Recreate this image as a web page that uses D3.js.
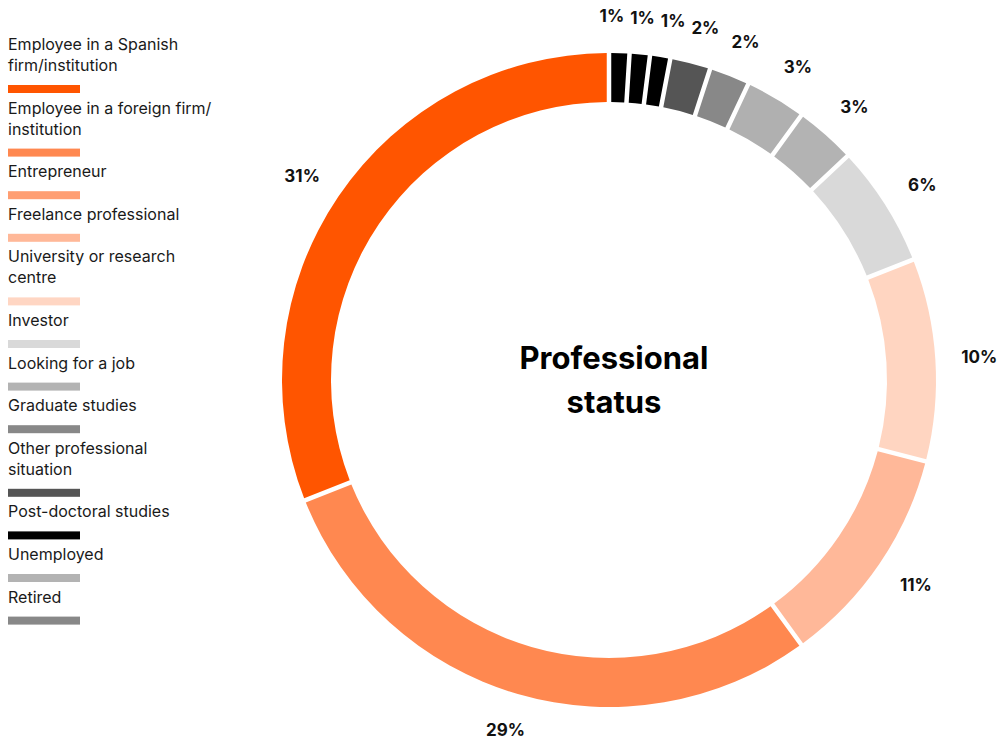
<!DOCTYPE html>
<html>
<head>
<meta charset="utf-8">
<script src="https://cdn.jsdelivr.net/npm/d3@7"></script>
<style>
  html, body { margin: 0; padding: 0; background: #ffffff; }
  svg { display: block; }
</style>
</head>
<body>
<svg id="chart" width="1006" height="739"></svg>
<script>
// Professional status of respondents (share, %)
const categories = [
  "Employee in a Spanish\nfirm/institution",
  "Employee in a foreign firm/\ninstitution",
  "Entrepreneur",
  "Freelance professional",
  "University or research\ncentre",
  "Investor",
  "Looking for a job",
  "Graduate studies",
  "Other professional\nsituation",
  "Post-doctoral studies",
  "Unemployed",
  "Retired"
];
const values = [31, 29, 11, 10, 6, 3, 3, 2, 2, 1, 1, 1];

// Swatch colours in the legend
const legendColors = [
  "#ff5500", "#ff8850", "#ff9e72", "#ffb898", "#ffd6c3", "#d9d9d9",
  "#b3b3b3", "#888888", "#555555", "#000000", "#b3b3b3", "#888888"
];
// Fill colours of the ring segments
const sliceColors = [
  "#ff5500", "#ff8850", "#ffb899", "#ffd5c1", "#d9d9d9", "#b3b3b3",
  "#b0b0b0", "#888888", "#555555", "#000000", "#000000", "#000000"
];

const centerTitle = ["Professional", "status"];

const data = categories.map((c, i) => ({
  name: c, value: values[i], legendColor: legendColors[i], sliceColor: sliceColors[i]
}));

const svg = d3.select("#chart");
const FONT = "Inter, 'Open Sans', sans-serif";

// ---- Donut ----
const cx = 609, cy = 380;
const innerR = 278, outerR = 327;
const labelRx = 371, labelRy = 364;   // percentage labels sit on a slightly wide ellipse

const pie = d3.pie()
  .value(d => d.value)
  .sort(null)
  .startAngle(0)
  .endAngle(2 * Math.PI);

// the gap is trimmed from each segment, so boundaries stay at the true shares
const arc = d3.arc()
  .innerRadius(innerR)
  .outerRadius(outerR)
  .padRadius(300)
  .padAngle(4.5 / 300);

// smallest shares first, running clockwise from the top
const arcs = pie(data.slice().reverse());

const ring = svg.append("g").attr("transform", `translate(${cx},${cy})`);

ring.selectAll("path.slice")
  .data(arcs)
  .join("path")
  .attr("class", "slice")
  .attr("d", arc)
  .attr("fill", d => d.data.sliceColor);

// percentage labels
const labels = ring.selectAll("text.pct")
  .data(arcs)
  .join("text")
  .attr("class", "pct")
  .attr("text-anchor", "middle")
  .attr("dy", "0.36em")
  .attr("font-family", FONT)
  .attr("font-weight", 700)
  .attr("font-size", 17)
  .attr("fill", "#111111")
  .text(d => d.data.value + "%");

const pos = arcs.map(d => {
  const a = (d.startAngle + d.endAngle) / 2;
  return { x: labelRx * Math.sin(a), y: -labelRy * Math.cos(a) };
});
labels.each(function (d, i) {
  const bb = this.getBBox();
  pos[i].w = bb.width;
  pos[i].h = bb.height;
});

// spread neighbouring labels that would collide
for (let iter = 0; iter < 60; iter++) {
  for (let i = 0; i < pos.length; i++) {
    const p = pos[i], q = pos[(i + 1) % pos.length];
    const need = (p.w + q.w) / 2 + 6;
    if (Math.abs(p.y - q.y) < (p.h + q.h) / 2 && Math.abs(q.x - p.x) < need) {
      const dir = q.x >= p.x ? 1 : -1;
      const push = (need - Math.abs(q.x - p.x)) / 2;
      p.x -= dir * push;
      q.x += dir * push;
    }
  }
}
labels.attr("transform", (d, i) => `translate(${pos[i].x},${pos[i].y})`);

ring.append("text")
  .attr("text-anchor", "middle")
  .attr("font-family", FONT)
  .attr("font-weight", 700)
  .attr("font-size", 31)
  .attr("fill", "#000000")
  .selectAll("tspan")
  .data(centerTitle)
  .join("tspan")
  .attr("x", 5)
  .attr("y", (d, i) => -11 + i * 44)
  .text(d => d);

// ---- Legend ----
const legend = svg.append("g").attr("transform", "translate(8,0)");
const lineH = 21, itemGap = 42.6;
let baseline = 50;

data.forEach(d => {
  const lines = d.name.split("\n");
  const g = legend.append("g");
  lines.forEach((ln, i) => {
    g.append("text")
      .attr("x", 0)
      .attr("y", baseline + i * lineH)
      .attr("font-family", FONT)
      .attr("font-size", 16)
      .attr("fill", "#1a1a1a")
      .text(ln);
  });
  const last = baseline + (lines.length - 1) * lineH;
  g.append("rect")
    .attr("x", 0)
    .attr("y", last + 14)
    .attr("width", 72)
    .attr("height", 8)
    .attr("fill", d.legendColor);
  baseline = last + itemGap;
});
</script>
</body>
</html>
